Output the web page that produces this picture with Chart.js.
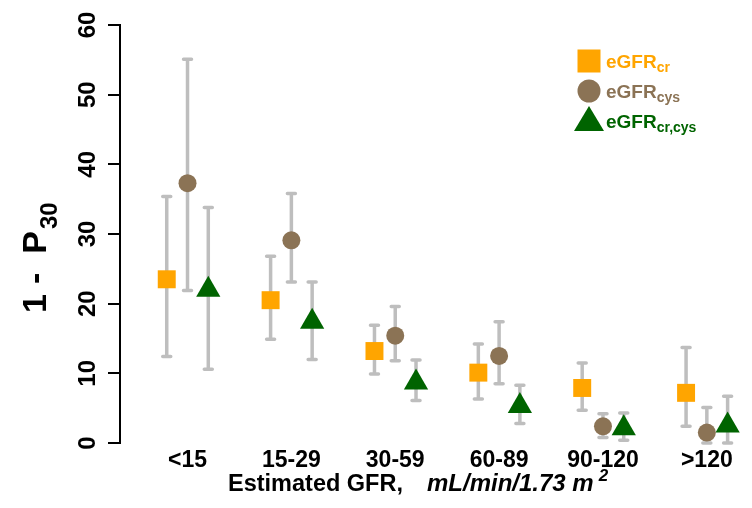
<!DOCTYPE html>
<html>
<head>
<meta charset="utf-8">
<script src="https://cdn.jsdelivr.net/npm/chart.js@4.4.0/dist/chart.umd.min.js"></script>
<style>
  html, body { margin: 0; padding: 0; background: #fff; }
</style>
</head>
<body>
<canvas id="myChart" width="752" height="508"></canvas>
<script>
// categories and tick values
var categories = ['<15', '15-29', '30-59', '60-89', '90-120', '>120'];
var yTicks = [0, 10, 20, 30, 40, 50, 60];

// eGFRcr
var crValues = [23.5, 20.5, 13.2, 10.1, 7.9, 7.2];
var crLower  = [12.4, 14.9, 9.9, 6.3, 4.7, 2.4];
var crUpper  = [35.4, 26.8, 16.9, 14.2, 11.5, 13.7];

// eGFRcys
var cysValues = [37.3, 29.1, 15.4, 12.5, 2.4, 1.5];
var cysLower  = [21.9, 23.1, 11.8, 8.5, 0.8, 0];
var cysUpper  = [55.1, 35.8, 19.6, 17.4, 4.2, 5.1];

// eGFRcr,cys
var bothValues = [22.0, 17.4, 8.7, 5.3, 2.1, 2.5];
var bothLower  = [10.6, 12.0, 6.1, 2.8, 0.4, 0];
var bothUpper  = [33.8, 23.1, 11.9, 8.3, 4.3, 6.7];

var ORANGE = '#ffa500';
var BROWN = '#8b7355';
var GREEN = '#006400';
var FONT = "'Liberation Sans', Arial, sans-serif";

// dodge the three series around each category
function points(values, lower, upper, shift) {
  return values.map(function (v, i) {
    return { x: i + 1 + shift, y: v, lo: lower[i], hi: upper[i] };
  });
}

// grey whiskers behind the markers
var errorBars = {
  id: 'errorBars',
  beforeDatasetsDraw: function (chart) {
    var ctx = chart.ctx;
    var xs = chart.scales.x, ys = chart.scales.y;
    ctx.save();
    ctx.strokeStyle = '#bebebe';
    ctx.lineWidth = 3.5;
    ctx.lineCap = 'round';
    chart.data.datasets.forEach(function (ds) {
      ds.data.forEach(function (p) {
        var px = xs.getPixelForValue(p.x);
        var lo = ys.getPixelForValue(p.lo);
        var hi = ys.getPixelForValue(p.hi);
        ctx.beginPath();
        ctx.moveTo(px, hi); ctx.lineTo(px, lo);
        ctx.moveTo(px - 4, hi); ctx.lineTo(px + 4, hi);
        ctx.moveTo(px - 4, lo); ctx.lineTo(px + 4, lo);
        ctx.stroke();
      });
    });
    ctx.restore();
  }
};

// draws text with a sub/superscript part, returns end x
function richText(ctx, parts, x, y) {
  parts.forEach(function (p) {
    ctx.font = p.font;
    ctx.fillText(p.text, x, y + (p.dy || 0));
    x += ctx.measureText(p.text).width + (p.gap || 0);
  });
  return x;
}

// rotated y labels, axis titles and the legend (subscripts need custom text)
var annotations = {
  id: 'annotations',
  afterDraw: function (chart) {
    var ctx = chart.ctx;
    var ys = chart.scales.y;
    ctx.save();
    ctx.fillStyle = '#000';

    // y tick labels, rotated like R's default
    ctx.font = 'bold 24px ' + FONT;
    ctx.textAlign = 'center';
    ctx.textBaseline = 'alphabetic';
    yTicks.forEach(function (v) {
      ctx.save();
      ctx.translate(95, ys.getPixelForValue(v));
      ctx.rotate(-Math.PI / 2);
      ctx.fillText(String(v), 0, 0);
      ctx.restore();
    });

    // y title: 1 - P30
    ctx.save();
    ctx.translate(46, 313);
    ctx.rotate(-Math.PI / 2);
    ctx.textAlign = 'left';
    richText(ctx, [
      { text: '1', font: 'bold 34px ' + FONT, gap: 10 },
      { text: '-', font: 'bold 34px ' + FONT, gap: 19 },
      { text: 'P', font: 'bold 34px ' + FONT, gap: 2 },
      { text: '30', font: 'bold 24px ' + FONT, dy: 11 }
    ], 0, 0);
    ctx.restore();

    // x title
    ctx.textAlign = 'left';
    var x = richText(ctx, [
      { text: 'Estimated GFR,', font: 'bold 23.5px ' + FONT, gap: 24 },
      { text: 'mL/min/1.73 m', font: 'italic bold 24px ' + FONT, gap: 5 }
    ], 228, 491);
    ctx.font = 'italic bold 17px ' + FONT;
    ctx.fillText('2', x, 481);

    // legend
    var lx = 589;
    var rows = [
      { y: 61, color: ORANGE, sub: 'cr', shape: 'rect' },
      { y: 91, color: BROWN, sub: 'cys', shape: 'circle' },
      { y: 121, color: GREEN, sub: 'cr,cys', shape: 'triangle' }
    ];
    rows.forEach(function (r) {
      ctx.fillStyle = r.color;
      ctx.beginPath();
      if (r.shape === 'rect') {
        ctx.rect(lx - 11.5, r.y - 11.5, 23, 23);
      } else if (r.shape === 'circle') {
        ctx.arc(lx, r.y, 11.5, 0, Math.PI * 2);
      } else {
        ctx.moveTo(lx, r.y - 15);
        ctx.lineTo(lx + 15, r.y + 10);
        ctx.lineTo(lx - 15, r.y + 10);
        ctx.closePath();
      }
      ctx.fill();
      richText(ctx, [
        { text: 'eGFR', font: 'bold 19px ' + FONT },
        { text: r.sub, font: 'bold 14px ' + FONT, dy: 4 }
      ], 606, r.y + 7);
    });
    ctx.restore();
  }
};

var myChart = new Chart(document.getElementById('myChart'), {
  type: 'scatter',
  data: {
    datasets: [
      {
        label: 'eGFRcr',
        data: points(crValues, crLower, crUpper, -0.2),
        pointStyle: 'rect', pointRadius: 12.7,
        backgroundColor: ORANGE, borderWidth: 0
      },
      {
        label: 'eGFRcys',
        data: points(cysValues, cysLower, cysUpper, 0),
        pointStyle: 'circle', pointRadius: 9,
        backgroundColor: BROWN, borderWidth: 0
      },
      {
        label: 'eGFRcr,cys',
        data: points(bothValues, bothLower, bothUpper, 0.2),
        pointStyle: 'triangle', pointRadius: 14,
        backgroundColor: GREEN, borderWidth: 0
      }
    ]
  },
  options: {
    responsive: false,
    devicePixelRatio: 1,
    animation: false,
    clip: false,
    layout: { padding: { top: 25, left: 0, right: 0, bottom: 0 } },
    plugins: {
      legend: { display: false },
      tooltip: { enabled: false }
    },
    scales: {
      x: {
        type: 'linear',
        min: 0.35,
        max: 6.30,
        afterBuildTicks: function (s) {
          s.ticks = categories.map(function (c, i) { return { value: i + 1 }; });
        },
        afterFit: function (s) {
          s.height = 65;
          s.paddingLeft = 0;
          s.paddingRight = 0;
        },
        grid: { display: false },
        border: { display: false },
        ticks: {
          autoSkip: false,
          maxRotation: 0,
          padding: -4,
          color: '#000',
          font: { family: FONT, size: 23, weight: 'bold' },
          callback: function (v) { return categories[v - 1]; }
        }
      },
      y: {
        min: 0,
        max: 60,
        afterBuildTicks: function (s) {
          s.ticks = yTicks.map(function (v) { return { value: v }; });
        },
        afterFit: function (s) { s.width = 120; },
        ticks: { display: false },
        grid: { drawOnChartArea: false, drawTicks: true, tickLength: 12, color: '#000', lineWidth: 2 },
        border: { display: true, color: '#000', width: 2 }
      }
    }
  },
  plugins: [errorBars, annotations]
});
</script>
</body>
</html>
